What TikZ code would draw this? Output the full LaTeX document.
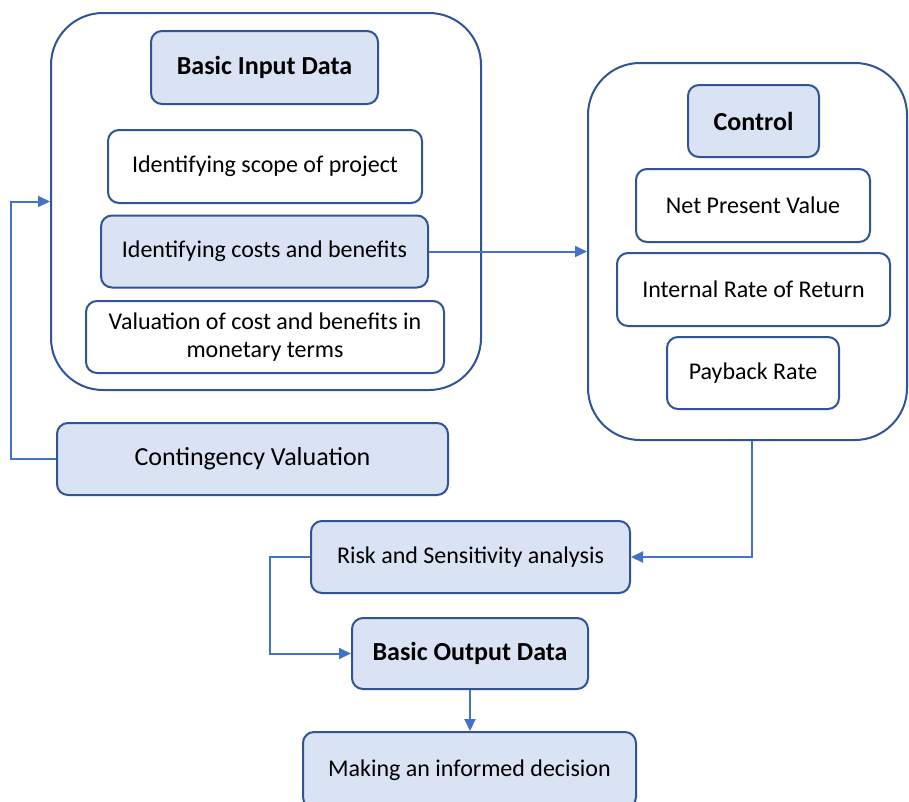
\documentclass[tikz,border=0pt]{standalone}
\usepackage{fontspec}
\setmainfont{Carlito}
\usetikzlibrary{arrows.meta}
\definecolor{bord}{HTML}{2F5597}
\definecolor{conn}{HTML}{4472C4}
\definecolor{lfill}{HTML}{DAE3F3}
\tikzset{
  bx/.style={draw=bord, line width=2pt, rounded corners=11pt, inner sep=0pt, align=center,
    font=\fontsize{24}{28}\selectfont},
  wbox/.style={bx, fill=white},
  fbox/.style={bx, fill=lfill},
  boldtxt/.style={font=\fontsize{26}{30}\selectfont\bfseries},
  cont/.style={draw=bord, line width=2pt, rounded corners=52pt, inner sep=0pt, fill=white},
  conx/.style={draw=conn, line width=2pt, -{Triangle[length=12pt,width=11pt]}},
}
\begin{document}
\begin{tikzpicture}[x=1pt,y=-1pt]
\clip (0,0) rectangle (909,801);
\fill[white] (0,0) rectangle (909,801);
% containers
\node[cont, minimum width=430pt, minimum height=377pt] (inC) at (266,201.5) {};
\node[cont, minimum width=319pt, minimum height=377pt] (ctrC) at (747.5,251.5) {};
% left container contents
\node[fbox, boldtxt, minimum width=227pt, minimum height=73pt] (bid) at (264.5,67.5) {Basic Input Data};
\node[wbox, minimum width=314pt, minimum height=73pt] (scope) at (265,166.5) {Identifying scope of project};
\node[fbox, minimum width=327pt, minimum height=72pt] (costs) at (264.5,251.5) {Identifying costs and benefits};
\node[wbox, minimum width=358pt, minimum height=72pt] (valu) at (265,337) {Valuation of cost and benefits in\\monetary terms};
% right container contents
\node[fbox, boldtxt, minimum width=131pt, minimum height=72pt] (ctrl) at (753.5,121) {Control};
\node[wbox, minimum width=234pt, minimum height=73pt] (npv) at (753,205.5) {Net Present Value};
\node[wbox, minimum width=273pt, minimum height=73pt] (irr) at (753.5,289.5) {Internal Rate of Return};
\node[wbox, minimum width=172pt, minimum height=72pt] (pay) at (753,373) {Payback Rate};
% lower boxes
\node[fbox, minimum width=391pt, minimum height=72pt, font=\fontsize{26}{30}\selectfont] (contv) at (252.5,459) {Contingency Valuation};
\node[fbox, minimum width=319pt, minimum height=72pt] (risk) at (470.5,557) {Risk and Sensitivity analysis};
\node[fbox, boldtxt, minimum width=236pt, minimum height=71pt] (out) at (470,653.5) {Basic Output Data};
\node[fbox, minimum width=333pt, minimum height=76pt] (dec) at (469.5,770) {Making an informed decision};
% connectors
\draw[conx] (costs.east) -- (costs.east -| ctrC.west);
\draw[conx] (contv.west) -- ([xshift=-45pt]contv.west) |- (inC.west);
\draw[conx] ([xshift=4.5pt]ctrC.south) |- (risk.east);
\draw[conx] (risk.west) -- ([xshift=-40pt]risk.west) |- (out.west);
\draw[conx] (out.south) -- (out.south |- dec.north);
\end{tikzpicture}
\end{document}
